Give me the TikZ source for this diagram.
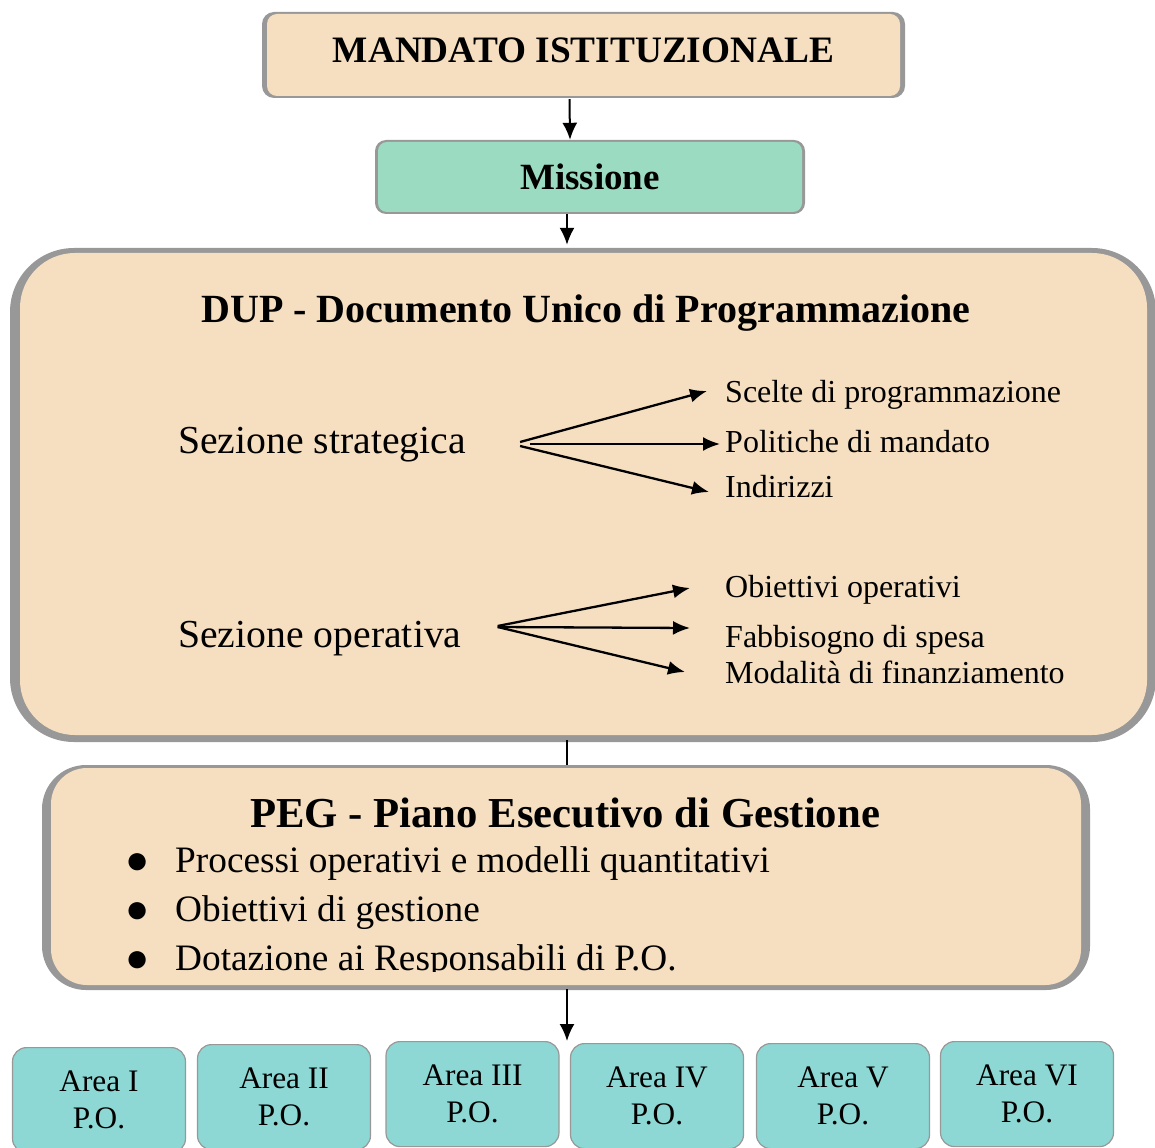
\documentclass[tikz,border=0pt]{standalone}
\usepackage{fontspec}
\setmainfont{Liberation Serif}
\usetikzlibrary{arrows.meta}
\definecolor{wheatfill}{RGB}{246,223,192}
\definecolor{mintfill}{RGB}{155,219,194}
\definecolor{tealfill}{RGB}{141,216,212}
\definecolor{framegray}{RGB}{152,152,152}

\begin{document}
\begin{tikzpicture}[x=1pt,y=1pt,
    panel/.style={fill=wheatfill,inner sep=0pt,rounded corners=#1},
    link/.style={-{Latex[length=17pt,width=15pt]},line width=2pt},
    fork/.style={-{Latex[length=17pt,width=14pt]},line width=2.3pt},
    item/.style={anchor=base west,inner sep=0pt,font=\fontsize{32}{38}\selectfont},
    sezione/.style={anchor=base west,inner sep=0pt,font=\fontsize{39.7}{46}\selectfont},
    point/.style={anchor=base west,inner sep=0pt,font=\fontsize{37.3}{44}\selectfont},
    dot/.style={anchor=base west,inner sep=0pt,font=\fontsize{40}{40}\selectfont},
    areabox/.style={fill=tealfill,draw=framegray,line width=1.2pt,rounded corners=14pt,
      minimum width=173pt,minimum height=105pt,inner sep=0pt,align=center,
      font=\fontsize{31.3}{37}\selectfont}]
  \useasboundingbox (0,0) rectangle (1155,-1147);
  \fill[framegray,rounded corners=12pt] (262,-12) rectangle (905,-98); % Mandato
  \fill[framegray,rounded corners=11pt] (375,-140) rectangle (805,-214); % Missione
  \fill[framegray,rounded corners=64pt] (10,-248) rectangle (1156,-742); % DUP
  \fill[framegray,rounded corners=44pt] (42,-765) rectangle (1090,-990); % PEG

  \node[panel=10pt,minimum width=633pt,minimum height=82pt,text depth=10pt,
    font=\fontsize{37.3}{44}\selectfont\bfseries] (mandato) at (583.5,-55) {MANDATO ISTITUZIONALE};
  \node[panel=9pt,fill=mintfill,minimum width=424pt,minimum height=70pt,
    font=\fontsize{37}{44}\selectfont\bfseries] (missione) at (590,-177) {Missione};
  \node[panel=55pt,minimum width=1127pt,minimum height=482pt] (dup) at (583.5,-494) {};
  \node[panel=36pt,minimum width=1030pt,minimum height=217pt] (peg) at (566,-876.5) {};

  % DUP
  \node[anchor=base,inner sep=0pt,font=\fontsize{40}{48}\selectfont\bfseries] (duptitle) at (586,-322) {DUP - Documento Unico di Programmazione};
  \node[sezione] (strat) at (178,-453) {Sezione strategica};
  \node[sezione] (oper) at (178,-647) {Sezione operativa};
  \node[item] (scelte) at (725,-402) {Scelte di programmazione};
  \node[item] (politiche) at (725,-452) {Politiche di mandato};
  \node[item] (indirizzi) at (725,-497) {Indirizzi};
  \node[item] (obiettivi) at (725,-597) {Obiettivi operativi};
  \node[item] (fabbisogno) at (725,-647) {Fabbisogno di spesa};
  \node[item] (modalita) at (725,-683) {Modalità di finanziamento};
  \coordinate (stratfork) at ([xshift=54pt,yshift=9pt]strat.base east);
  \coordinate (operfork) at ([xshift=36pt,yshift=20pt]oper.base east);
  \draw[fork] ([yshift=2pt]stratfork) -- ([xshift=-18pt,yshift=11pt]scelte.base west);
  \draw[fork] ([xshift=10pt]stratfork) -- ([xshift=-5pt,yshift=8pt]politiche.base west);
  \draw[fork] ([yshift=-2pt]stratfork) -- ([xshift=-16pt,yshift=5pt]indirizzi.base west);
  \draw[fork] ([yshift=1pt]operfork) -- ([xshift=-35pt,yshift=9pt]obiettivi.base west);
  \draw[fork] (operfork) -- ([xshift=-35pt,yshift=19pt]fabbisogno.base west);
  \draw[fork] (operfork) -- ([xshift=-40pt,yshift=11pt]modalita.base west);

  % PEG
  \node[anchor=base,inner sep=0pt,font=\fontsize{42.7}{50}\selectfont\bfseries] (pegtitle) at (565,-827) {PEG - Piano Esecutivo di Gestione};
  \foreach \i in {1,2,3}
    \node[dot] (bullet\i) at (125,-873-49*\i+49) {●};
  \begin{scope}
    \clip (0,-760) rectangle (1155,-971);
    \foreach \t [count=\i] in {Processi operativi e modelli quantitativi,
        Obiettivi di gestione, Dotazione ai Responsabili di P.O.}
      \node[point] (voce\i) at (175,-872-49*\i+49) {\t};
  \end{scope}

  % Aree
  \foreach \nm/\x/\y in {I/99/1047,II/284/1044,III/472.5/1041,IV/657/1043,V/843/1043,VI/1027/1041}
    \node[areabox,anchor=north] (area\nm) at (\x,-\y) {Area \nm\\P.O.};
  \coordinate (areatop) at (567,-1041);

  \draw[link] ([xshift=-14pt,yshift=-3pt]mandato.south) -- ([xshift=-20pt,yshift=2pt]missione.north);
  \draw[link] ([xshift=-23pt,yshift=-2pt]missione.south) -- ([xshift=-16.5pt,yshift=8pt]dup.north);
  \draw[line width=2pt] ([xshift=-16.5pt,yshift=-5pt]dup.south) -- ([xshift=1pt,yshift=3pt]peg.north);
  \draw[link] ([xshift=1pt,yshift=-4pt]peg.south) -- (areatop);
\end{tikzpicture}
\end{document}
